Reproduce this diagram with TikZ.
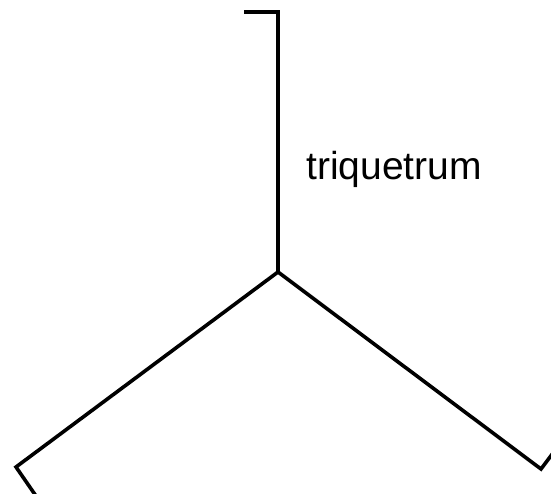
\documentclass[tikz,border=0pt]{standalone}
\usepackage{fontspec}
\setmainfont{Liberation Sans}
\usetikzlibrary{positioning}

\begin{document}
\begin{tikzpicture}[
    x=1pt, y=-1pt,
    leg/.style={
        draw=black,
        line width=3.6pt,
        line join=miter
    },
    legtext/.style={
        font=\fontsize{39}{46}\selectfont,
        inner sep=0pt,
        anchor=base west
    }
]
\useasboundingbox (0,0) rectangle (551,494);

% Hub and leg ends
\coordinate (hub) at (278,272);
\coordinate (top) at (278,12);
\coordinate (top_hook) at (244,12);
\coordinate (left) at (16,467);
\coordinate (left_hook) at (36,496);
\coordinate (right) at (541,469);
\coordinate (right_hook) at (553,453);

% Legs
\draw[leg] (top_hook) -- (top) -- (hub);
\draw[leg] (hub) -- (left) -- (left_hook);
\draw[leg] (hub) -- (right) -- (right_hook);

% Label
\node[legtext] (label) at (306,180) {triquetrum};

\end{tikzpicture}
\end{document}
